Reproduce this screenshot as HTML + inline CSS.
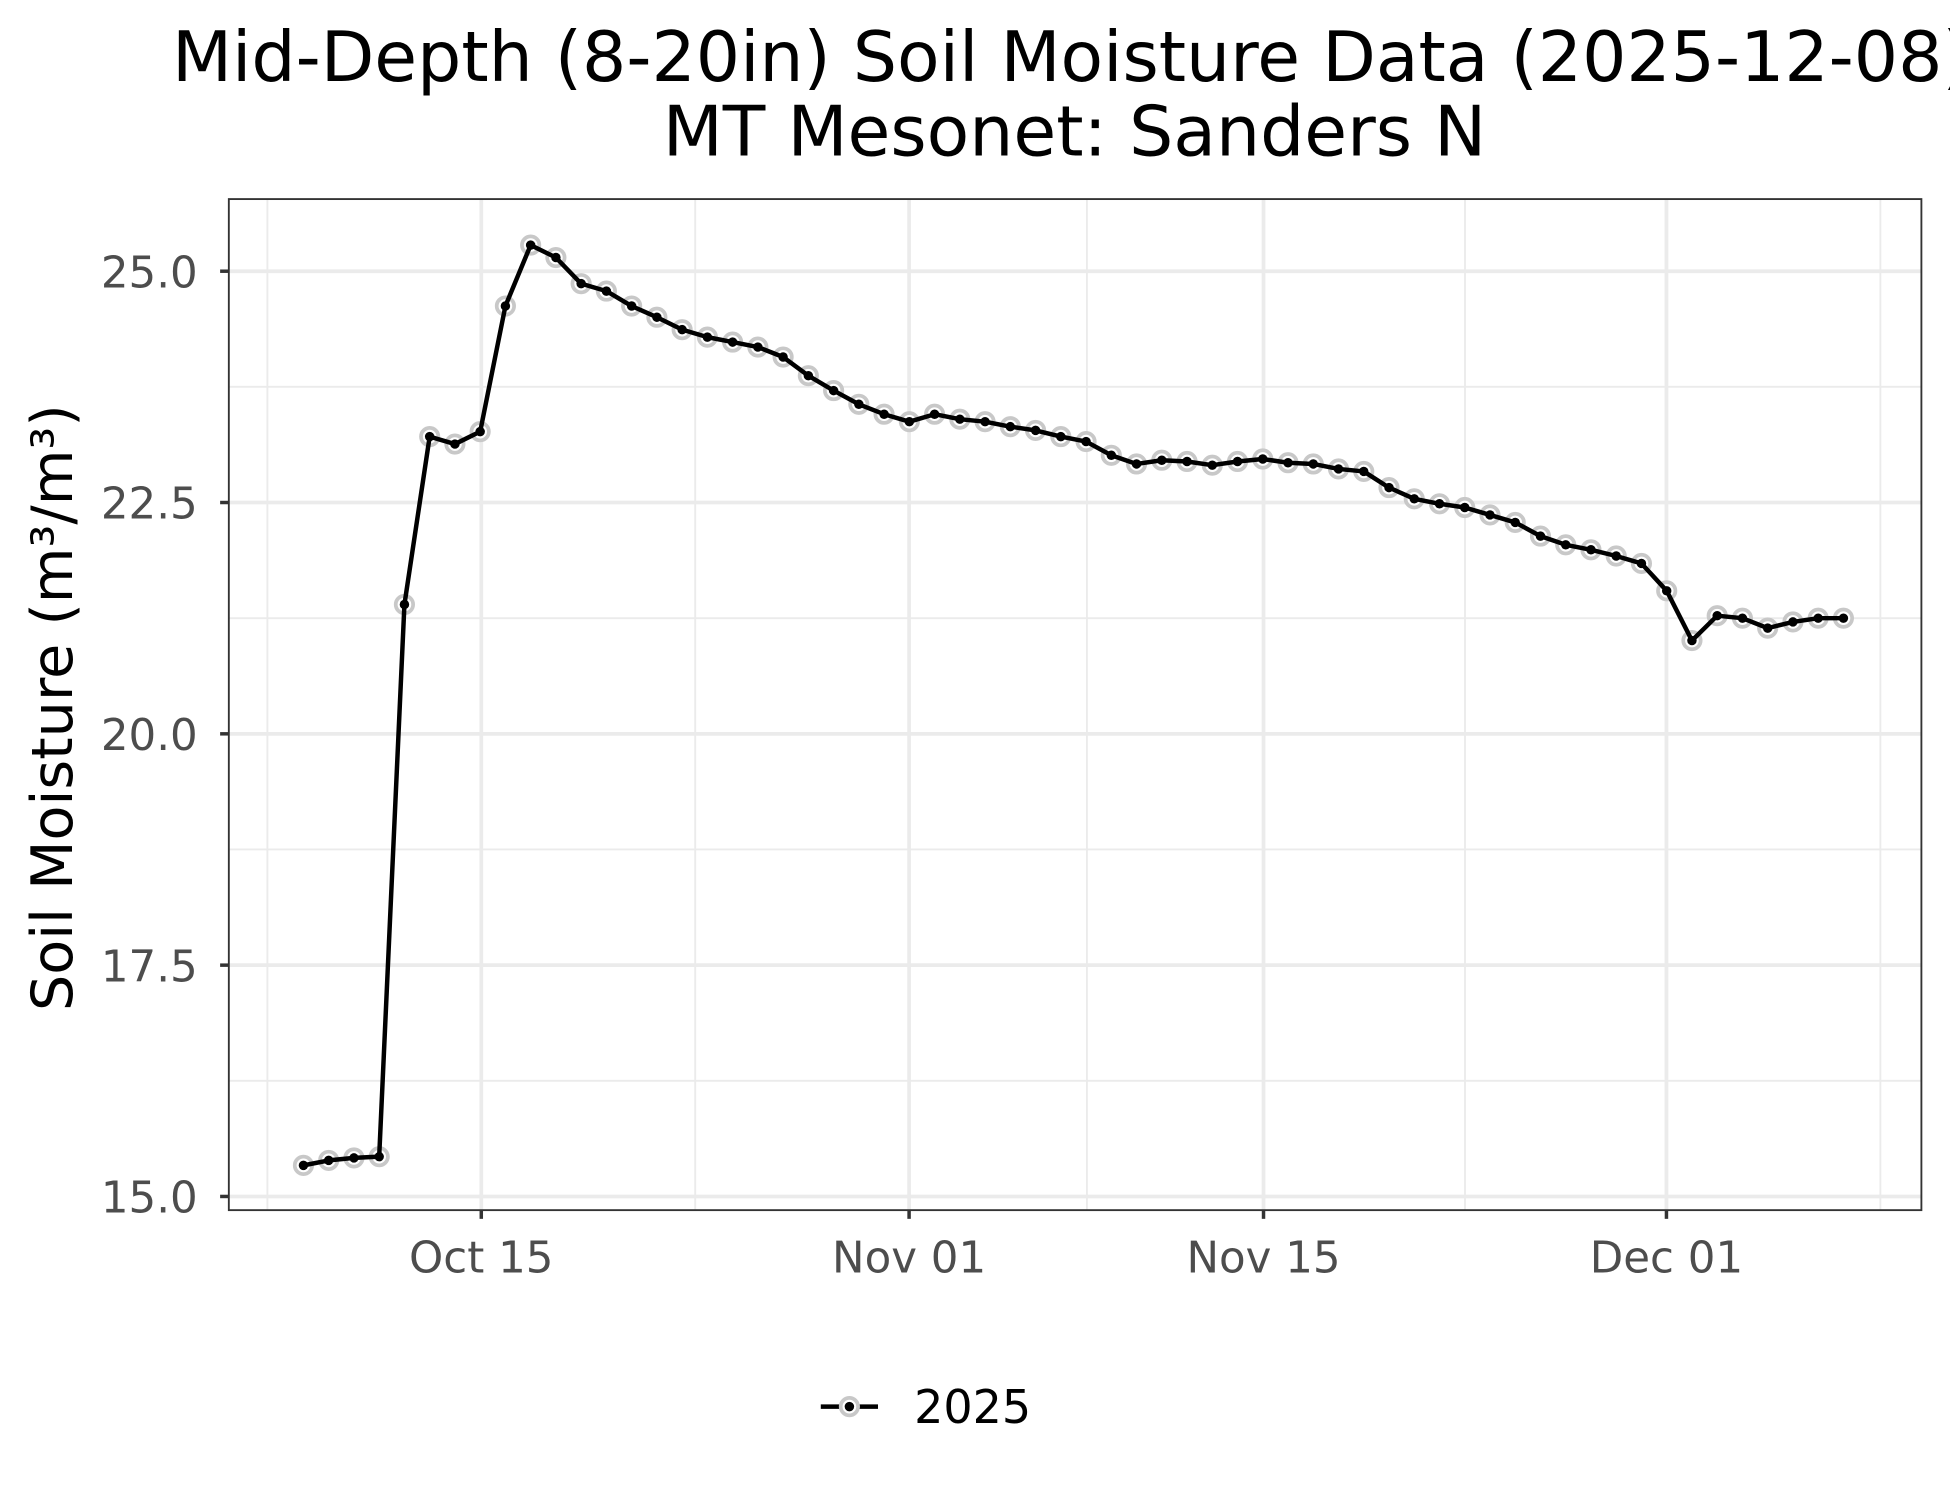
<!DOCTYPE html>
<html><head><meta charset="utf-8"><style>html,body{margin:0;padding:0;background:#fff}svg{display:block}</style></head><body>
<svg width="1950" height="1500" viewBox="0 0 1568 1206" xmlns="http://www.w3.org/2000/svg" font-family="'DejaVu Sans','Liberation Sans',sans-serif">
<defs>
<marker id="ring" markerUnits="userSpaceOnUse" markerWidth="24" markerHeight="24" refX="12" refY="12"><circle cx="12" cy="12" r="7" fill="#fff" stroke="#c8c8c8" stroke-width="3"/></marker>
<marker id="dot" markerUnits="userSpaceOnUse" markerWidth="12" markerHeight="12" refX="6" refY="6"><circle cx="6" cy="6" r="3.8" fill="#000"/></marker>
</defs>
<rect width="1568" height="1206" fill="#fff"/>
<text x="861" y="65" font-size="56" text-anchor="middle" fill="#000">Mid-Depth (8-20in) Soil Moisture Data (2025-12-08)</text>
<text x="864" y="125" font-size="56" text-anchor="middle" fill="#000">MT Mesonet: Sanders N</text>
<g stroke="#ebebeb" stroke-width="1.5">
<line x1="184" x2="1545" y1="311" y2="311"/><line x1="184" x2="1545" y1="497" y2="497"/><line x1="184" x2="1545" y1="683" y2="683"/><line x1="184" x2="1545" y1="869" y2="869"/>
<line x1="215" x2="215" y1="160" y2="973"/><line x1="559" x2="559" y1="160" y2="973"/><line x1="874" x2="874" y1="160" y2="973"/><line x1="1178" x2="1178" y1="160" y2="973"/><line x1="1512" x2="1512" y1="160" y2="973"/>
</g>
<g stroke="#ebebeb" stroke-width="3">
<line x1="184" x2="1545" y1="218" y2="218"/><line x1="184" x2="1545" y1="404" y2="404"/><line x1="184" x2="1545" y1="590" y2="590"/><line x1="184" x2="1545" y1="776" y2="776"/><line x1="184" x2="1545" y1="962" y2="962"/>
<line x1="387" x2="387" y1="160" y2="973"/><line x1="731" x2="731" y1="160" y2="973"/><line x1="1016" x2="1016" y1="160" y2="973"/><line x1="1340" x2="1340" y1="160" y2="973"/>
</g>
<polyline fill="none" stroke="none" marker-start="url(#ring)" marker-mid="url(#ring)" marker-end="url(#ring)" points="244,937 264.3,933 284.6,931 304.9,930 325.2,486 345.5,351 365.8,357 386.1,347 406.4,246 426.7,197 447,207 467.3,228 487.6,234 507.9,246 528.2,255 548.5,265 568.8,271 589.1,275 609.4,279 629.7,287 650,302 670.3,314 690.6,325 710.9,333 731.2,339 751.5,333 771.8,337 792.1,339 812.4,343 832.7,346 853,351 873.3,355 893.6,366 913.9,373 934.2,370 954.5,371 974.8,374 995.1,371 1015.4,369 1035.7,372 1056,373 1076.3,377 1096.6,379 1116.9,392 1137.2,401 1157.5,405 1177.8,408 1198.1,414 1218.4,420 1238.7,431 1259,438 1279.3,442 1299.6,447 1319.9,453 1340.2,475 1360.5,515 1380.8,495 1401.1,497 1421.4,505 1441.7,500 1462,497 1482.3,497"/>
<polyline fill="none" stroke="#000" stroke-width="3.6" stroke-linejoin="round" marker-start="url(#dot)" marker-mid="url(#dot)" marker-end="url(#dot)" points="244,937 264.3,933 284.6,931 304.9,930 325.2,486 345.5,351 365.8,357 386.1,347 406.4,246 426.7,197 447,207 467.3,228 487.6,234 507.9,246 528.2,255 548.5,265 568.8,271 589.1,275 609.4,279 629.7,287 650,302 670.3,314 690.6,325 710.9,333 731.2,339 751.5,333 771.8,337 792.1,339 812.4,343 832.7,346 853,351 873.3,355 893.6,366 913.9,373 934.2,370 954.5,371 974.8,374 995.1,371 1015.4,369 1035.7,372 1056,373 1076.3,377 1096.6,379 1116.9,392 1137.2,401 1157.5,405 1177.8,408 1198.1,414 1218.4,420 1238.7,431 1259,438 1279.3,442 1299.6,447 1319.9,453 1340.2,475 1360.5,515 1380.8,495 1401.1,497 1421.4,505 1441.7,500 1462,497 1482.3,497"/>
<rect x="184" y="160" width="1361" height="813" fill="none" stroke="#333" stroke-width="1.5"/>
<g stroke="#333" stroke-width="2.8">
<line x1="177" x2="184" y1="218" y2="218"/><line x1="177" x2="184" y1="404" y2="404"/><line x1="177" x2="184" y1="590" y2="590"/><line x1="177" x2="184" y1="776" y2="776"/><line x1="177" x2="184" y1="962" y2="962"/>
<line x1="387" x2="387" y1="973" y2="980"/><line x1="731" x2="731" y1="973" y2="980"/><line x1="1016" x2="1016" y1="973" y2="980"/><line x1="1340" x2="1340" y1="973" y2="980"/>
</g>
<g font-size="35" fill="#4d4d4d" text-anchor="end">
<text x="159" y="231">25.0</text><text x="159" y="417">22.5</text><text x="159" y="603">20.0</text><text x="159" y="789">17.5</text><text x="159" y="975">15.0</text>
</g>
<g font-size="35" fill="#4d4d4d" text-anchor="middle">
<text x="387" y="1023">Oct 15</text><text x="731" y="1023">Nov 01</text><text x="1016" y="1023">Nov 15</text><text x="1340" y="1023">Dec 01</text>
</g>
<text transform="translate(58,569) rotate(-90)" font-size="46" text-anchor="middle" fill="#000">Soil Moisture (m³/m³)</text>
<line x1="660" x2="706" y1="1131" y2="1131" stroke="#000" stroke-width="3.6"/>
<circle cx="683" cy="1131" r="7" fill="#fff" stroke="#c8c8c8" stroke-width="3"/>
<circle cx="683" cy="1131" r="3.8" fill="#000"/>
<text x="735" y="1144" font-size="37" fill="#000">2025</text>
</svg>
</body></html>
